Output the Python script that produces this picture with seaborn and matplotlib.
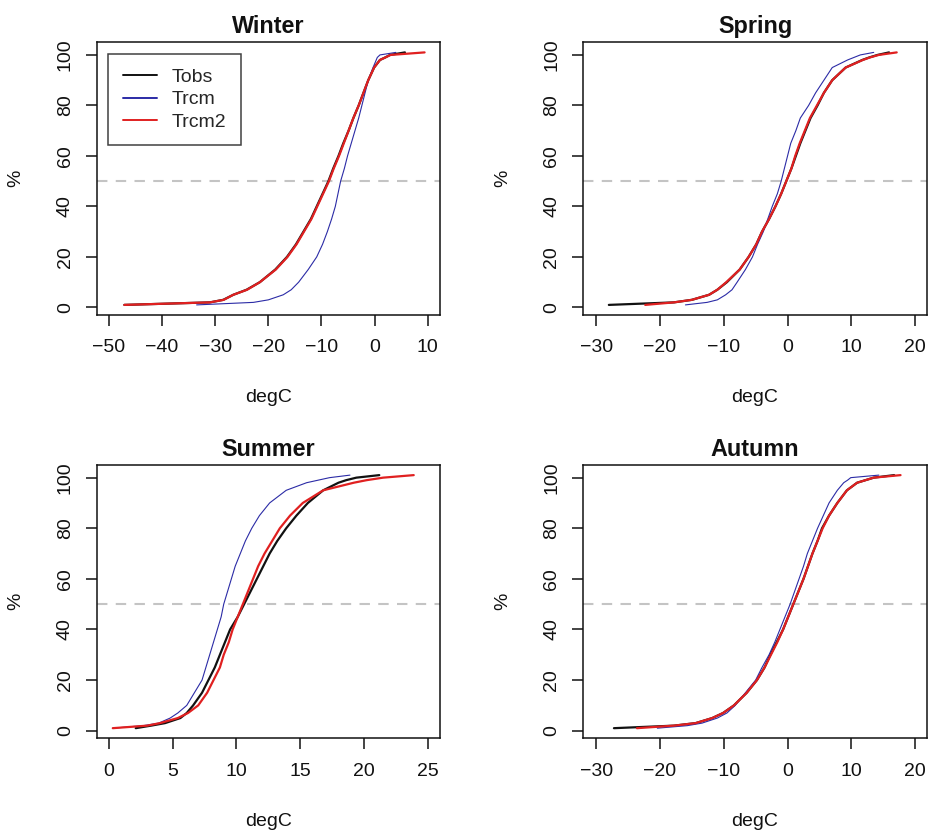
import numpy as np
import pandas as pd
import seaborn as sns
import matplotlib
matplotlib.use("Agg")
import matplotlib.pyplot as plt

# ---- data ----
pct = [1, 2, 3, 5, 7, 10, 15, 20, 25, 30, 35, 40, 45, 50, 55, 60, 65, 70, 75, 80, 85, 90, 95, 98, 99, 100, 101]
series_names = ["Tobs", "Trcm", "Trcm2"]
seasons = ["Winter", "Spring", "Summer", "Autumn"]

winter_tobs = [-47.1, -31.0, -28.5, -26.6, -24.1, -21.6, -18.7, -16.5, -14.8, -13.4, -12.0, -10.9, -9.8, -8.7,
               -7.8, -6.8, -5.9, -4.9, -4.0, -3.0, -2.1, -1.2, -0.1, 1.0, 2.0, 2.9, 5.7]
winter_trcm = [-33.5, -22.8, -20.0, -17.2, -15.7, -14.3, -12.5, -10.9, -9.8, -8.9, -8.1, -7.4, -6.9, -6.4,
               -5.7, -5.1, -4.4, -3.7, -3.0, -2.4, -1.8, -1.2, -0.3, 0.3, 0.5, 1.0, 4.0]
winter_trcm2 = [-47.1, -31.0, -28.4, -26.6, -24.0, -21.6, -18.6, -16.4, -14.7, -13.3, -11.9, -10.8, -9.7, -8.6,
                -7.7, -6.7, -5.8, -4.9, -4.0, -3.0, -2.1, -1.2, -0.1, 1.0, 2.0, 3.0, 9.4]

spring_tobs = [-28.0, -17.8, -15.0, -12.3, -11.0, -9.5, -7.5, -6.1, -4.9, -4.0, -2.9, -1.9, -1.0, -0.2,
               0.6, 1.3, 2.0, 2.8, 3.6, 4.7, 5.7, 7.0, 9.1, 11.7, 12.8, 14.1, 15.9]
spring_trcm = [-16.0, -12.6, -11.0, -9.7, -8.7, -7.9, -6.6, -5.5, -4.7, -3.8, -3.1, -2.4, -1.6, -1.0,
               -0.5, 0.0, 0.5, 1.3, 2.0, 3.3, 4.4, 5.7, 7.0, 9.4, 10.4, 11.4, 13.5]
spring_trcm2 = [-22.3, -17.8, -15.0, -12.3, -11.0, -9.6, -7.5, -6.1, -4.9, -4.0, -2.9, -1.9, -1.0, -0.2,
                0.6, 1.2, 1.9, 2.7, 3.5, 4.6, 5.7, 7.0, 9.1, 11.8, 12.9, 14.3, 17.1]

summer_tobs = [2.1, 3.3, 4.4, 5.6, 6.1, 6.6, 7.3, 7.8, 8.3, 8.7, 9.1, 9.5, 10.1, 10.6,
               11.1, 11.6, 12.1, 12.6, 13.2, 13.9, 14.7, 15.6, 16.8, 18.0, 18.6, 19.4, 21.2]
summer_trcm = [0.3, 2.7, 3.9, 4.8, 5.4, 6.1, 6.7, 7.3, 7.6, 7.9, 8.2, 8.5, 8.8, 9.0,
               9.3, 9.6, 9.9, 10.3, 10.7, 11.2, 11.8, 12.6, 13.9, 15.5, 16.4, 17.3, 18.9]
summer_trcm2 = [0.3, 3.0, 4.0, 5.4, 6.2, 7.0, 7.7, 8.2, 8.7, 9.0, 9.4, 9.7, 10.1, 10.5,
                10.9, 11.3, 11.7, 12.2, 12.8, 13.4, 14.2, 15.2, 16.8, 19.2, 20.2, 21.5, 23.9]

autumn_tobs = [-27.2, -17.8, -14.4, -11.8, -10.1, -8.4, -6.4, -4.8, -3.6, -2.7, -1.7, -0.7, 0.1, 0.9,
               1.7, 2.5, 3.2, 3.9, 4.7, 5.4, 6.5, 7.8, 9.3, 10.9, 12.2, 13.5, 16.7]
autumn_trcm = [-20.4, -15.7, -13.4, -11.0, -9.5, -8.2, -6.6, -5.0, -4.0, -2.9, -2.0, -1.2, -0.4, 0.4,
               1.1, 1.8, 2.5, 3.1, 3.9, 4.7, 5.6, 6.5, 7.8, 8.8, 9.4, 9.9, 14.3]
autumn_trcm2 = [-23.6, -17.8, -14.4, -11.8, -10.1, -8.4, -6.4, -4.8, -3.6, -2.6, -1.6, -0.7, 0.1, 0.9,
                1.7, 2.5, 3.2, 3.9, 4.7, 5.5, 6.5, 7.8, 9.3, 10.9, 12.2, 13.5, 17.7]

xticks = {
    "Winter": [-50, -40, -30, -20, -10, 0, 10],
    "Spring": [-30, -20, -10, 0, 10, 20],
    "Summer": [0, 5, 10, 15, 20, 25],
    "Autumn": [-30, -20, -10, 0, 10, 20],
}
yticks = [0, 20, 40, 60, 80, 100]

data = {
    "Winter": [winter_tobs, winter_trcm, winter_trcm2],
    "Spring": [spring_tobs, spring_trcm, spring_trcm2],
    "Summer": [summer_tobs, summer_trcm, summer_trcm2],
    "Autumn": [autumn_tobs, autumn_trcm, autumn_trcm2],
}

rows = []
for s in seasons:
    for name, vals in zip(series_names, data[s]):
        for p, v in zip(pct, vals):
            rows.append({"season": s, "series": name, "degC": v, "pct": p})
df = pd.DataFrame(rows)

# ---- styling ----
sns.set_theme(style="white")
plt.rcParams["font.family"] = ["Liberation Sans", "DejaVu Sans"]
plt.rcParams["axes.linewidth"] = 1.1

colors = {"Tobs": "#111111", "Trcm": "#2b2ba6", "Trcm2": "#e02020"}
widths = {"Tobs": 1.6, "Trcm": 0.8, "Trcm2": 1.6}

fig = plt.figure(figsize=(9.3, 8.32), dpi=100)

W, H = 930.0, 832.0
boxes = {
    "Winter": (96.7, 42.3, 440.0, 315.0),
    "Spring": (583.3, 42.3, 926.7, 315.0),
    "Summer": (96.7, 465.0, 440.0, 738.3),
    "Autumn": (583.3, 465.0, 926.7, 738.3),
}
xlims = {
    "Winter": (-52.3, 12.3),
    "Spring": (-32.0, 21.8),
    "Summer": (-0.96, 25.96),
    "Autumn": (-32.0, 21.8),
}

for s in seasons:
    x0, y0, x1, y1 = boxes[s]
    ax = fig.add_axes([x0 / W, 1 - y1 / H, (x1 - x0) / W, (y1 - y0) / H])
    ax.axhline(50, color="#c4c4c4", lw=1.5, ls=(0, (5, 4)), zorder=1)
    sub = df[df["season"] == s]
    for name in ["Tobs", "Trcm", "Trcm2"]:
        sns.lineplot(data=sub[sub["series"] == name], x="degC", y="pct",
                     color=colors[name], lw=widths[name], sort=False,
                     estimator=None, ax=ax, label=name, zorder=3)
    ax.set_xlim(*xlims[s])
    ax.set_ylim(-3, 105)
    ax.set_xticks(xticks[s])
    ax.set_yticks(yticks)
    ax.set_xticklabels([f"\u2212{abs(t)}" if t < 0 else str(t) for t in xticks[s]])
    ax.tick_params(axis="both", direction="out", length=8, width=1.1,
                   labelsize=14, colors="#111111", bottom=True, left=True)
    ax.tick_params(axis="x", pad=9.5)
    ax.tick_params(axis="y", pad=8.5, labelrotation=90)
    for lab in ax.get_yticklabels():
        lab.set_va("center")
    for sp in ax.spines.values():
        sp.set_color("#111111")
        sp.set_linewidth(1.1)
    ax.set_title(s, fontsize=16.8, fontweight="bold", pad=6.8, color="#111111")
    ax.set_xlabel("degC", fontsize=14, color="#111111")
    ax.set_ylabel("%", fontsize=14, color="#111111")
    ax.xaxis.set_label_coords(0.5, -(83.0 / (y1 - y0)))
    ax.xaxis.label.set_va("center")
    ax.yaxis.set_label_coords(-80.5 / (x1 - x0), 0.5)
    ax.yaxis.label.set_va("center")
    if s == "Winter":
        leg = ax.legend(loc="upper left", bbox_to_anchor=(0.0338, 0.957),
                        borderaxespad=0, fontsize=14, frameon=True,
                        fancybox=False, handlelength=1.75, handletextpad=0.75,
                        borderpad=0.75, labelspacing=0.24)
        leg.get_frame().set_edgecolor("#111111")
        leg.get_frame().set_linewidth(1.1)
        for lh in leg.get_lines():
            lh.set_linewidth(1.4)
    else:
        ax.get_legend().remove()

fig.savefig("out.png", dpi=100, facecolor="white")
